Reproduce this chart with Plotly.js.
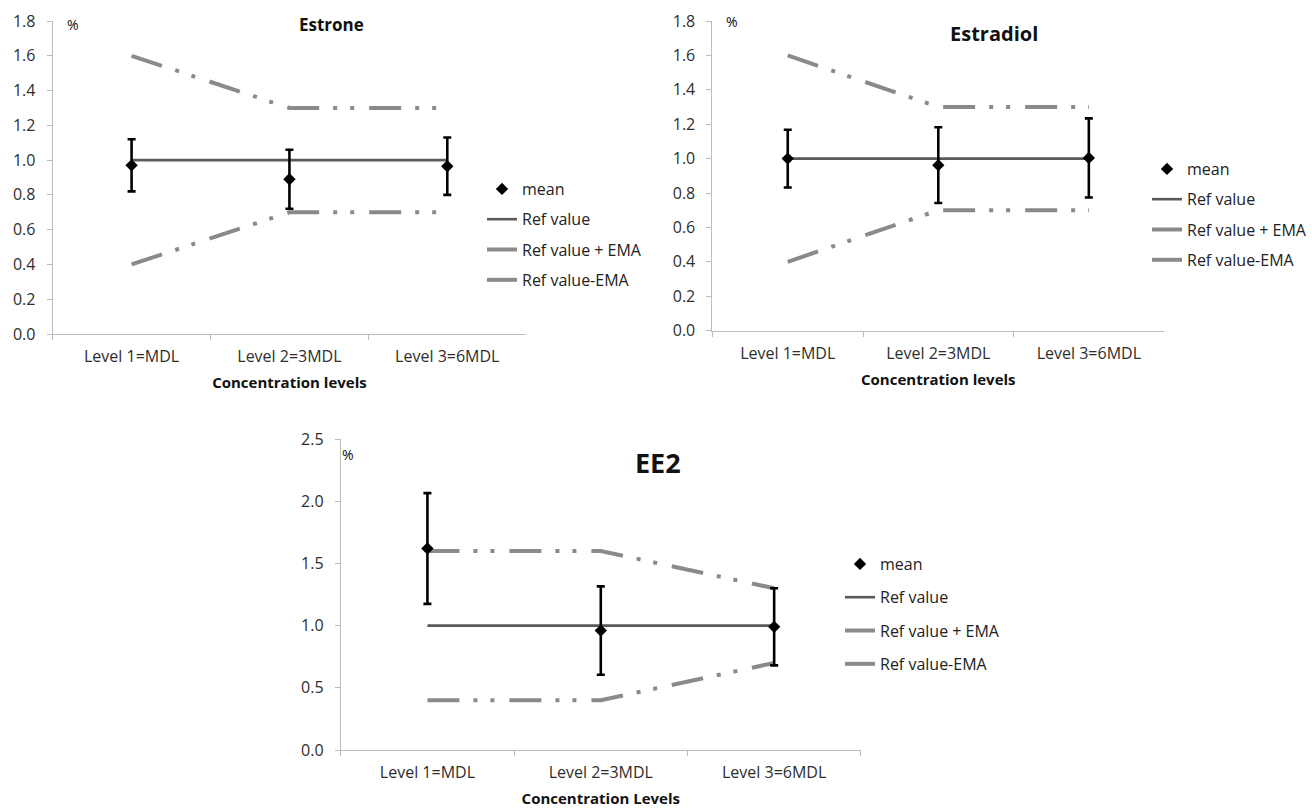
<!DOCTYPE html>
<html>
<head>
<meta charset="utf-8">
<script src="https://cdn.plot.ly/plotly-3.0.1.min.js"></script>
<style>
  html, body { margin: 0; padding: 0; background: #ffffff; }
  #chart { width: 1312px; height: 808px; }
</style>
</head>
<body>
<div id="chart"></div>
<script>
// ---- data ----
const categories = ['Level 1=MDL', 'Level 2=3MDL', 'Level 3=6MDL'];

const estroneMean = [0.97, 0.89, 0.965];
const estroneErr = [0.15, 0.17, 0.165];
const estroneRef = [1.0, 1.0, 1.0];
const estronePlusEMA = [1.6, 1.3, 1.3];
const estroneMinusEMA = [0.4, 0.7, 0.7];

const estradiolMean = [1.0, 0.962, 1.004];
const estradiolErr = [0.168, 0.22, 0.23];
const estradiolRef = [1.0, 1.0, 1.0];
const estradiolPlusEMA = [1.6, 1.3, 1.3];
const estradiolMinusEMA = [0.4, 0.7, 0.7];

const ee2Mean = [1.62, 0.96, 0.99];
const ee2Err = [0.445, 0.355, 0.31];
const ee2Ref = [1.0, 1.0, 1.0];
const ee2PlusEMA = [1.6, 1.6, 1.3];
const ee2MinusEMA = [0.4, 0.4, 0.7];

const seriesNames = ['mean', 'Ref value', 'Ref value + EMA', 'Ref value-EMA'];

// ---- styling ----
const FONT = 'Open Sans, Noto Sans, sans-serif';
const W = 1312, H = 808;
const emaDash = '32px,14px,4px,13px,4px,15px';

function panelTraces(mean, err, ref, plus, minus, xa, ya, leg) {
  const common = { x: categories, xaxis: xa, yaxis: ya, legend: leg, hoverinfo: 'skip' };
  return [
    Object.assign({}, common, {
      type: 'scatter', mode: 'lines', y: ref, name: seriesNames[1],
      legendrank: 2, legendgroup: leg + 'b',
      line: { color: '#5a5a5a', width: 2.6 }
    }),
    Object.assign({}, common, {
      type: 'scatter', mode: 'lines', y: plus, name: seriesNames[2],
      legendrank: 3, legendgroup: leg + 'c',
      line: { color: '#8a8a8a', width: 4, dash: emaDash }
    }),
    Object.assign({}, common, {
      type: 'scatter', mode: 'lines', y: minus, name: seriesNames[3],
      legendrank: 4, legendgroup: leg + 'd',
      line: { color: '#8a8a8a', width: 4, dash: emaDash }
    }),
    Object.assign({}, common, {
      type: 'scatter', mode: 'markers', y: mean, name: seriesNames[0],
      legendrank: 1, legendgroup: leg + 'a',
      marker: { symbol: 'diamond', size: 9.5, color: '#000000' },
      error_y: { type: 'data', array: err, visible: true, color: '#000000', thickness: 2.6, width: 4 }
    })
  ];
}

const data = []
  .concat(panelTraces(estroneMean, estroneErr, estroneRef, estronePlusEMA, estroneMinusEMA, 'x', 'y', 'legend'))
  .concat(panelTraces(estradiolMean, estradiolErr, estradiolRef, estradiolPlusEMA, estradiolMinusEMA, 'x2', 'y2', 'legend2'))
  .concat(panelTraces(ee2Mean, ee2Err, ee2Ref, ee2PlusEMA, ee2MinusEMA, 'x3', 'y3', 'legend3'));

function px(v) { return v / W; }
function py(v) { return 1 - v / H; }

function xAxis(x0, x1, anchor, titleText, standoff) {
  return {
    domain: [px(x0), px(x1)], anchor: anchor,
    type: 'category', range: [-0.5, 2.5], tickson: 'boundaries',
    showline: true, linecolor: '#bdbdbd', linewidth: 1,
    ticks: 'outside', ticklen: 5, tickcolor: '#bdbdbd', tickwidth: 1,
    showgrid: false, zeroline: false, fixedrange: true,
    tickfont: { family: FONT, size: 16, color: '#2e2e2e' },
    ticklabelstandoff: 8,
    title: { text: titleText, font: { family: FONT, size: 15, color: '#111111', weight: 'bold' }, standoff: standoff }
  };
}
function yAxis(yTop, yBottom, anchor, maxV, step) {
  return {
    domain: [py(yBottom), py(yTop)], anchor: anchor,
    range: [0, maxV], dtick: step, tick0: 0, tickformat: '.1f',
    showline: true, linecolor: '#bdbdbd', linewidth: 1,
    ticks: 'outside', ticklen: 5, tickcolor: '#bdbdbd', tickwidth: 1,
    showgrid: false, zeroline: false, fixedrange: true,
    tickfont: { family: FONT, size: 16, color: '#2e2e2e' },
    ticklabelstandoff: 8
  };
}
function legendBox(xPix, yPix, gap) {
  return {
    x: px(xPix), y: py(yPix), xanchor: 'left', yanchor: 'top',
    bgcolor: 'rgba(0,0,0,0)', borderwidth: 0,
    traceorder: 'grouped', tracegroupgap: gap,
    font: { family: FONT, size: 16, color: '#222222' }
  };
}
function label(text, xPix, yPix, size) {
  return { text: text, xref: 'paper', yref: 'paper', x: px(xPix), y: py(yPix),
    xanchor: 'center', yanchor: 'middle', showarrow: false,
    font: { family: FONT, size: size, color: '#111111' } };
}

const layout = {
  width: W, height: H,
  margin: { l: 0, r: 0, t: 0, b: 0 },
  paper_bgcolor: '#ffffff', plot_bgcolor: '#ffffff',
  showlegend: true,
  xaxis: xAxis(52.7, 526.6, 'y', 'Concentration levels', 11),
  yaxis: yAxis(21, 334, 'x', 1.8, 0.2),
  xaxis2: xAxis(713, 1165, 'y2', 'Concentration levels', 11),
  yaxis2: yAxis(21, 330.6, 'x2', 1.8, 0.2),
  xaxis3: xAxis(341, 861.5, 'y3', 'Concentration Levels', 13),
  yaxis3: yAxis(439, 750, 'x3', 2.5, 0.5),
  legend: legendBox(482, 172, 6.5),
  legend2: legendBox(1148, 152, 6.5),
  legend3: legendBox(840, 547, 9.5),
  annotations: [
    label('<b>Estrone</b>', 332, 24, 17),
    label('<b>Estradiol</b>', 995, 33, 20),
    label('<b>EE2</b>', 659, 463, 27),
    label('%', 73, 24, 14),
    label('%', 733, 21, 14),
    label('%', 348, 455, 14)
  ]
};

Plotly.newPlot('chart', data, layout, { displayModeBar: false, staticPlot: true });
</script>
</body>
</html>
